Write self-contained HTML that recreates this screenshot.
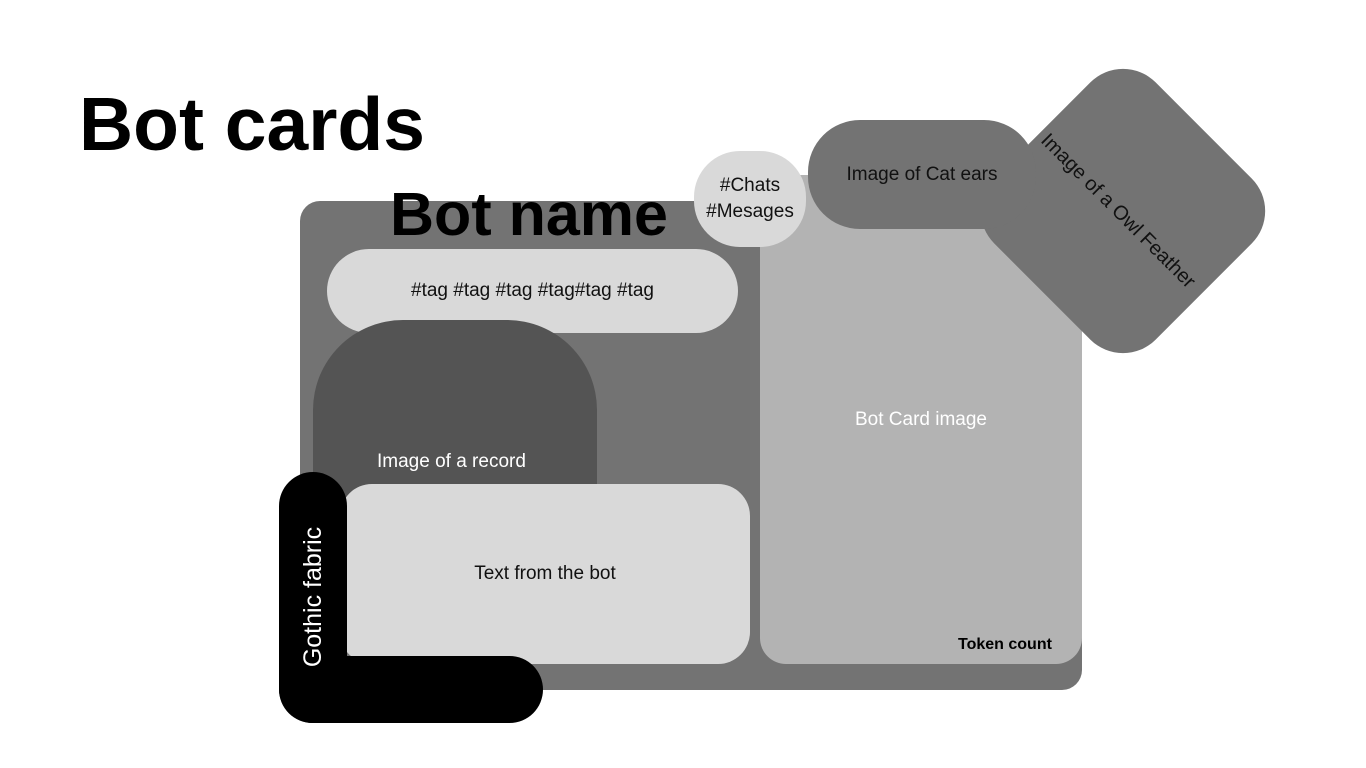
<!DOCTYPE html>
<html><head><style>
body{margin:0;width:1366px;height:768px;background:#fff;position:relative;overflow:hidden;font-family:"Liberation Sans",sans-serif}
div{position:absolute;box-sizing:border-box}
.c{display:flex;align-items:center;justify-content:center;text-align:center}
</style></head><body>
<div style="left:79px;top:78px;font-size:75px;font-weight:bold;line-height:92px;color:#000">Bot cards</div>
<div style="left:300px;top:201px;width:782px;height:489px;background:#737373;border-radius:20px"></div>
<div class="c" style="left:760px;top:175px;width:322px;height:489px;background:#b3b3b3;border-radius:26px;color:#fff;font-size:19px">Bot Card image</div>
<div style="left:958px;top:636px;font-size:16px;font-weight:bold;color:#000">Token count</div>
<div style="left:390px;top:176px;font-size:61px;font-weight:bold;line-height:76px;color:#000">Bot name</div>
<div style="left:1009px;top:97px;width:228px;height:228px;background:#737373;border-radius:46px;transform:rotate(45deg)"></div>
<div class="c" style="left:694px;top:151px;width:112px;height:96px;background:#d9d9d9;border-radius:46px;font-size:19px;line-height:26px;color:#111">#Chats<br>#Mesages</div>
<div class="c" style="left:808px;top:120px;width:228px;height:109px;background:#737373;border-radius:52px;font-size:19px;color:#111;padding-bottom:0">Image of Cat ears</div>
<div class="c" style="left:998px;top:198px;width:240px;height:26px;font-size:20px;color:#111;transform:rotate(45deg)">Image of a Owl Feather</div>
<div class="c" style="left:327px;top:249px;width:411px;height:84px;background:#d9d9d9;border-radius:42px;font-size:19px;color:#111">#tag #tag #tag #tag#tag #tag</div>
<div style="left:313px;top:320px;width:284px;height:220px;background:#545454;border-radius:90px 90px 0 0"></div>
<div style="left:377px;top:451px;font-size:19px;color:#fff">Image of a record</div>
<div class="c" style="left:340px;top:484px;width:410px;height:180px;background:#d9d9d9;border-radius:32px;font-size:19px;color:#111">Text from the bot</div>
<div style="left:279px;top:472px;width:68px;height:251px;background:#000;border-radius:34px 34px 0 34px"></div>
<div style="left:279px;top:656px;width:264px;height:67px;background:#000;border-radius:0 34px 34px 34px"></div>
<div class="c" style="left:213px;top:582px;width:200px;height:30px;font-size:25px;color:#fff;transform:rotate(-90deg)">Gothic fabric</div>
</body></html>
